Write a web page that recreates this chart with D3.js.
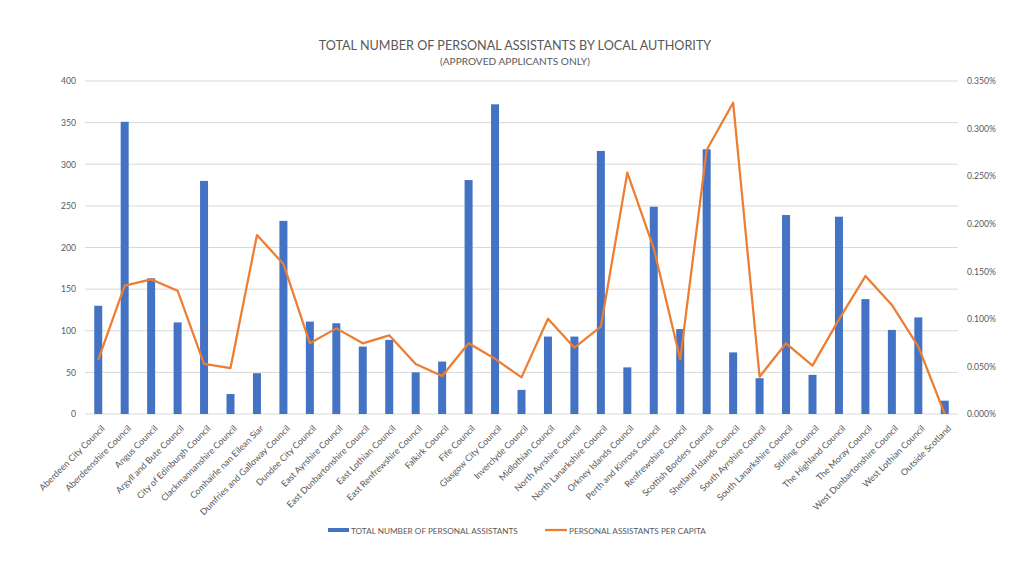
<!DOCTYPE html>
<html><head><meta charset="utf-8">
<script src="https://cdn.jsdelivr.net/npm/d3@7"></script>
<style>body{margin:0;background:#fff}svg{display:block}text{font-family:Lato,"Open Sans",sans-serif;fill:#595959}</style>
</head><body>
<svg id="c" width="1024" height="576"></svg>
<script>
const categories = ["Aberdeen City Council","Aberdeenshire Council","Angus Council","Argyll and Bute Council","City of Edinburgh Council","Clackmannanshire Council","Comhairle nan Eilean Siar","Dumfries and Galloway Council","Dundee City Council","East Ayrshire Council","East Dunbartonshire Council","East Lothian Council","East Renfrewshire Council","Falkirk Council","Fife Council","Glasgow City Council","Inverclyde Council","Midlothian Council","North Ayrshire Council","North Lanarkshire Council","Orkney Islands Council","Perth and Kinross Council","Renfrewshire Council","Scottish Borders Council","Shetland Islands Council","South Ayrshire Council","South Lanarkshire Council","Stirling Council","The Highland Council","The Moray Council","West Dunbartonshire Council","West Lothian Council","Outside Scotland"];
const totals = [130,351,163,110,280,24,49,232,111,109,81,89,50,63,281,372,29,93,93,316,56,249,102,318,74,43,239,47,237,138,101,116,16];
const perCapita = [0.0568,0.1349,0.1415,0.1296,0.0526,0.0483,0.1881,0.1577,0.0743,0.0900,0.0743,0.0827,0.0526,0.0399,0.0743,0.0580,0.0385,0.1002,0.0697,0.0918,0.2537,0.1740,0.0575,0.2775,0.3272,0.0392,0.0743,0.0508,0.0995,0.1450,0.1146,0.0708,0.0];
const leftTicks = [0,50,100,150,200,250,300,350,400];
const rightTicks = [0,0.05,0.1,0.15,0.2,0.25,0.3,0.35];
const title = "TOTAL NUMBER OF PERSONAL ASSISTANTS BY LOCAL AUTHORITY";
const subtitle = "(APPROVED APPLICANTS ONLY)";
const legendLabels = ["TOTAL NUMBER OF PERSONAL ASSISTANTS","PERSONAL ASSISTANTS PER CAPITA"];

const svg = d3.select("#c");
const L = 85, R = 958, T = 81, B = 414;
const x = d3.scaleBand().domain(categories).range([L, R]);
const y = d3.scaleLinear().domain([0,400]).range([B, T]);
const y2 = d3.scaleLinear().domain([0,0.35]).range([B, T]);

// font size so that a text has a given width
function fitSize(str, target) {
  const t = svg.append("text").style("font-size","10px").text(str);
  const w = t.node().getComputedTextLength();
  t.remove();
  return 10 * target / w;
}

// gridlines
svg.append("g").selectAll("line").data(leftTicks).join("line")
  .attr("x1", L).attr("x2", R).attr("y1", d=>y(d)).attr("y2", d=>y(d))
  .attr("stroke", "#d9d9d9").attr("stroke-width", 1);

const tickFs = Math.min(fitSize("0.350%", 29), 10);

// left axis
const la = svg.append("g").attr("transform", `translate(${L},0)`)
  .call(d3.axisLeft(y).tickValues(leftTicks).tickSize(0).tickPadding(9));
la.select(".domain").remove();
la.selectAll("text").style("font-size", tickFs+"px").attr("fill","#595959");

// right axis
const ra = svg.append("g").attr("transform", `translate(${R},0)`)
  .call(d3.axisRight(y2).tickValues(rightTicks).tickSize(0).tickPadding(9).tickFormat(d=>d.toFixed(3)+"%"));
ra.select(".domain").remove();
ra.selectAll("text").style("font-size", tickFs+"px").attr("fill","#595959");

// bars
const bw = 8;
svg.append("g").selectAll("rect").data(totals).join("rect")
  .attr("x", (d,i)=>x(categories[i]) + x.bandwidth()/2 - bw/2)
  .attr("width", bw)
  .attr("y", d=>y(d)).attr("height", d=>y(0)-y(d))
  .attr("fill", "#4472C4");

// line
const line = d3.line().x((d,i)=>x(categories[i]) + x.bandwidth()/2).y(d=>y2(d));
svg.append("path").datum(perCapita).attr("d", line)
  .attr("fill","none").attr("stroke","#ED7D31").attr("stroke-width",2.25).attr("stroke-linejoin","round");

// x axis labels
const xFs = fitSize("Dumfries and Galloway Council", 123);
const xa = svg.append("g").attr("transform", `translate(0,${B})`)
  .call(d3.axisBottom(x).tickSize(0).tickPadding(0));
xa.select(".domain").remove();
xa.selectAll("text").style("font-size", xFs+"px").attr("fill","#595959")
  .attr("text-anchor","end").attr("dy",null).attr("y",0)
  .attr("transform","translate(7,15) rotate(-45)");

// titles
svg.append("text").attr("x", 515).attr("y", 50).attr("text-anchor","middle")
  .style("font-size", fitSize(title, 393)+"px").text(title);
svg.append("text").attr("x", 515).attr("y", 65).attr("text-anchor","middle")
  .style("font-size", fitSize(subtitle, 150)+"px").text(subtitle);

// legend
const lg = svg.append("g");
const lgFs = fitSize(legendLabels[0], 167);
lg.append("rect").attr("x",328).attr("y",528).attr("width",21).attr("height",4).attr("fill","#4472C4");
lg.append("text").attr("x",351).attr("y",533.5).style("font-size", lgFs+"px").text(legendLabels[0]);
lg.append("line").attr("x1",545).attr("x2",567).attr("y1",530).attr("y2",530).attr("stroke","#ED7D31").attr("stroke-width",2.25);
lg.append("text").attr("x",569).attr("y",533.5).style("font-size", lgFs+"px").text(legendLabels[1]);
</script>
</body></html>
